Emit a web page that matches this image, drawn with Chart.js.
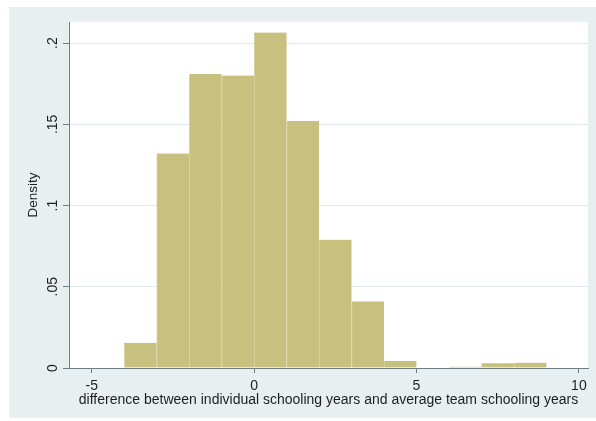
<!DOCTYPE html>
<html>
<head>
<meta charset="utf-8">
<script src="https://cdn.jsdelivr.net/npm/chart.js@4.4.1/dist/chart.umd.min.js"></script>
<style>
  html, body { margin: 0; padding: 0; background: #ffffff; }
  #wrap { width: 596px; height: 421px; position: relative; }
</style>
</head>
<body>
<div id="wrap"><canvas id="c" width="596" height="421"></canvas></div>
<script>
// ---- data ----
const binStarts = [-4, -3, -2, -1, 0, 1, 2, 3, 4, 5, 6, 7, 8];
const densities = [0.0155, 0.132, 0.181, 0.180, 0.2065, 0.152, 0.079, 0.041, 0.0043, 0, 0.0008, 0.003, 0.0033];
const binWidth = 1;
const xTickValues = [-5, 0, 5, 10];
const xTickLabels = ['-5', '0', '5', '10'];
const yTickValues = [0, 0.05, 0.1, 0.15, 0.2];
const yTickLabels = ['0', '.05', '.1', '.15', '.2'];
const xTitle = 'difference between individual schooling years and average team schooling years';
const yTitle = 'Density';

const barPoints = binStarts.map((s, i) => ({ x: s + binWidth / 2, y: densities[i] }));

const AXIS = '#6f7c81';
const GRID = '#e2e9ec';
const FONT = 'Liberation Sans, Arial, sans-serif';

const bgPlugin = {
  id: 'bg',
  beforeDraw(chart) {
    const { ctx, chartArea: a } = chart;
    ctx.save();
    ctx.fillStyle = '#ffffff';
    ctx.fillRect(0, 0, chart.width, chart.height);
    ctx.fillStyle = '#e8eff1';
    ctx.fillRect(9, 7, chart.width - 9, 411);
    ctx.fillStyle = '#ffffff';
    ctx.fillRect(a.left, a.top, a.right - a.left, a.bottom - a.top);
    ctx.restore();
  }
};

new Chart(document.getElementById('c'), {
  type: 'bar',
  data: {
    datasets: [{
      data: barPoints,
      backgroundColor: '#c8c07e',
      borderColor: '#dad5a6',
      borderWidth: { left: 1, top: 0, right: 0, bottom: 0 },
      borderSkipped: false,
      barPercentage: 1,
      categoryPercentage: 1
    }]
  },
  options: {
    responsive: false,
    animation: false,
    devicePixelRatio: 1,
    layout: { padding: { left: 9, top: 22, right: 8, bottom: 3 } },
    plugins: { legend: { display: false }, tooltip: { enabled: false } },
    scales: {
      x: {
        type: 'linear',
        min: -5.7,
        max: 10.28,
        offset: false,
        afterBuildTicks(scale) { scale.ticks = xTickValues.map(v => ({ value: v })); },
        afterFit(scale) { scale.height = 50; },
        grid: { offset: false, drawOnChartArea: false, drawTicks: true, tickLength: 5, tickColor: AXIS, tickWidth: 1 },
        border: { display: true, color: AXIS, width: 1 },
        ticks: {
          padding: 5,
          maxRotation: 0,
          color: '#1e1e1e',
          font: { family: FONT, size: 14 },
          callback(v) { const i = xTickValues.indexOf(v); return i >= 0 ? xTickLabels[i] : ''; }
        },
        title: {
          display: true,
          text: xTitle,
          color: '#1e1e1e',
          font: { family: FONT, size: 14 },
          padding: { top: 0, bottom: 9 }
        }
      },
      y: {
        min: 0,
        max: 0.213,
        afterBuildTicks(scale) { scale.ticks = yTickValues.map(v => ({ value: v })); },
        afterFit(scale) { scale.width = 60; },
        grid: {
          drawOnChartArea: true,
          drawTicks: true,
          tickLength: 6,
          tickColor: AXIS,
          color(ctx) { return ctx.tick && ctx.tick.value === 0 ? 'rgba(0,0,0,0)' : GRID; },
          lineWidth: 1
        },
        border: { display: true, color: AXIS, width: 1 },
        ticks: {
          minRotation: 90,
          maxRotation: 90,
          crossAlign: 'center',
          padding: 0,
          color: '#1e1e1e',
          font: { family: FONT, size: 14 },
          callback(v) { const i = yTickValues.indexOf(v); return i >= 0 ? yTickLabels[i] : ''; }
        },
        title: {
          display: true,
          text: yTitle,
          color: '#1e1e1e',
          font: { family: FONT, size: 13.5 },
          padding: { top: 16, bottom: 0 }
        }
      }
    }
  },
  plugins: [bgPlugin]
});
</script>
</body>
</html>
